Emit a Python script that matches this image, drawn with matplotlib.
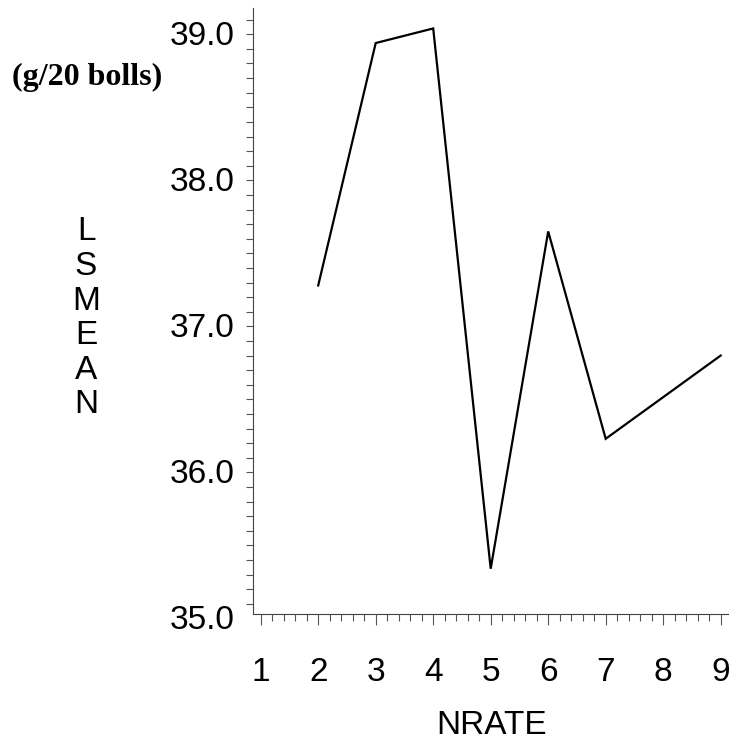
import matplotlib
matplotlib.use("Agg")
import matplotlib.pyplot as plt
import matplotlib.transforms as mtransforms
from matplotlib.ticker import MultipleLocator, FixedLocator

# LSMEAN by nitrogen rate (no estimate at NRATE 1 or 8)
nrate = [2, 3, 4, 5, 6, 7, 9]
lsmean = [37.18, 38.84, 38.94, 35.24, 37.55, 36.13, 36.70]

y_ticks = [35.0, 36.0, 37.0, 38.0, 39.0]
y_labels = ["35.0", "36.0", "37.0", "38.0", "39.0"]
x_ticks = [1, 2, 3, 4, 5, 6, 7, 8, 9]

W, H = 729, 740
fig = plt.figure(figsize=(W / 100, H / 100), dpi=100)
ax = fig.add_axes([253 / W, (H - 614) / H, (728 - 253) / W, (614 - 8) / H])

ax.plot(nrate, lsmean, color="black", linewidth=1.6, solid_joinstyle="miter")

ax.set_xlim(0.866, 9.127)
ax.set_ylim(34.93, 39.08)
ax.spines["top"].set_visible(False)
ax.spines["right"].set_visible(False)
for s in ("left", "bottom"):
    ax.spines[s].set_linewidth(0.8)
    ax.spines[s].set_color("#444444")

ax.xaxis.set_major_locator(FixedLocator(x_ticks))
ax.xaxis.set_minor_locator(MultipleLocator(0.2))
ax.yaxis.set_major_locator(FixedLocator(y_ticks))
ax.yaxis.set_minor_locator(MultipleLocator(0.1))
ax.set_yticklabels(y_labels)

ax.tick_params(axis="x", which="major", direction="out", length=8, width=0.8,
               pad=23, labelsize=24, color="#555555")
ax.tick_params(axis="x", which="minor", direction="out", length=5, width=0.8,
               color="#555555")
ax.tick_params(axis="y", which="both", direction="out", length=5, width=0.8,
               pad=8.5, labelsize=24, color="#555555")

for lab in ax.get_xticklabels() + ax.get_yticklabels():
    lab.set_family(["Liberation Sans", "DejaVu Sans"])
# SAS-style: y labels sit a little below their tick
offset = mtransforms.ScaledTranslation(0, -13 / 100, fig.dpi_scale_trans)
for lab in ax.get_yticklabels():
    lab.set_transform(lab.get_transform() + offset)

fig.text(491.7 / W, 1 - 725 / H, "NRATE", ha="center", va="center",
         fontsize=24, family=["Liberation Sans", "DejaVu Sans"])

for i, ch in enumerate("LSMEAN"):
    fig.text(86 / W, 1 - (232 + 34.6 * i) / H, ch, ha="center", va="center",
             fontsize=24, family=["Liberation Sans", "DejaVu Sans"])

fig.text(87 / W, 1 - 77 / H, "(g/20 bolls)", ha="center", va="center",
         fontsize=23, fontweight="bold", family=["Liberation Serif", "DejaVu Serif"])

fig.savefig("out.png", dpi=100)
